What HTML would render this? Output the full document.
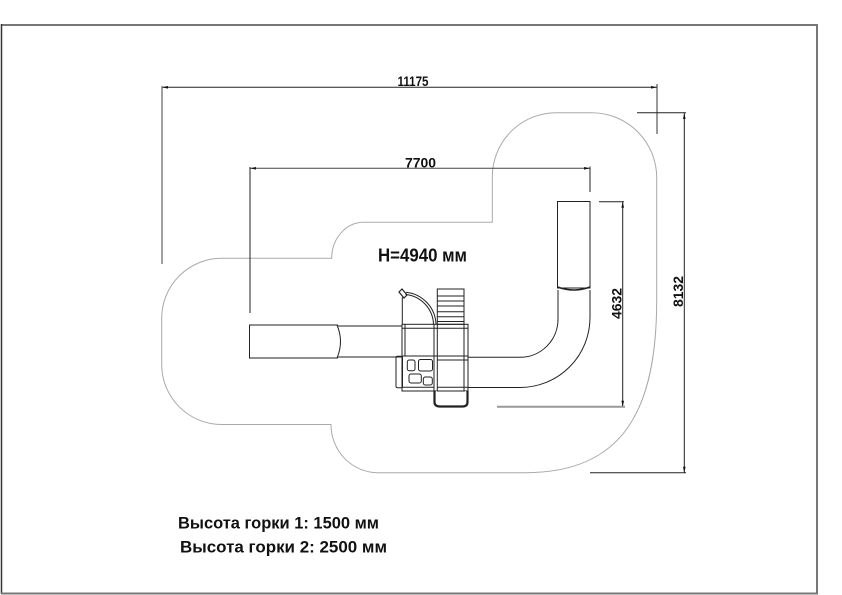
<!DOCTYPE html>
<html><head><meta charset="utf-8"><style>
html,body{margin:0;padding:0;background:#fff;}
svg{display:block;}
text{font-family:"Liberation Sans","Noto Sans CJK SC",sans-serif;font-weight:bold;fill:#111;}
</style></head><body>
<svg width="842" height="595" viewBox="0 0 842 595" xmlns="http://www.w3.org/2000/svg">
<rect width="842" height="595" fill="#fff"/>
<!-- frame -->
<line x1="1" y1="25" x2="818" y2="25" stroke="#777" stroke-width="2"/>
<line x1="1.5" y1="24" x2="1.5" y2="594" stroke="#333" stroke-width="1.5"/>
<line x1="817" y1="24" x2="817" y2="594" stroke="#777" stroke-width="2"/>
<line x1="1" y1="593.5" x2="818" y2="593.5" stroke="#777" stroke-width="2"/>

<!-- zone outline -->
<path d="M221.7,258.3 L331.7,258.3 A32,36 0 0 1 363.5,222.3 L492.3,222.3 L492.3,176.7 A64,64 0 0 1 556.3,112.7 L592,112.7 A65,65 0 0 1 656.7,177.7 L656.7,300 C656.7,412 622,472.7 525,472.7 L378,472.7 A47,48 0 0 1 331,424.5 L221.7,424.5 A60,60 0 0 1 161.7,364.5 L161.7,318.3 A60,60 0 0 1 221.7,258.3 Z" fill="none" stroke="#aaa" stroke-width="1"/>

<!-- 11175 dimension -->
<line x1="162" y1="87.3" x2="657" y2="87.3" stroke="#222" stroke-width="1"/>
<line x1="162" y1="86" x2="162" y2="264" stroke="#888" stroke-width="1.6"/>
<line x1="657" y1="84" x2="657" y2="134" stroke="#333" stroke-width="1"/>
<polygon points="162,87.3 168,86 168,88.6" fill="#111"/>
<polygon points="657,87.3 651,86 651,88.6" fill="#111"/>
<text x="397.5" y="86" font-size="14" textLength="31" lengthAdjust="spacingAndGlyphs">11175</text>

<!-- 7700 dimension -->
<line x1="250" y1="168.3" x2="590" y2="168.3" stroke="#444" stroke-width="1"/>
<line x1="250" y1="167" x2="250" y2="313" stroke="#222" stroke-width="1"/>
<line x1="590" y1="166.5" x2="590" y2="192" stroke="#222" stroke-width="1"/>
<polygon points="250,168.3 256,167 256,169.6" fill="#111"/>
<polygon points="590,168.3 584,167 584,169.6" fill="#111"/>
<text x="405" y="167.3" font-size="14" textLength="31" lengthAdjust="spacingAndGlyphs">7700</text>

<!-- 8132 dimension -->
<line x1="637" y1="112.7" x2="686" y2="112.7" stroke="#222" stroke-width="1"/>
<line x1="684.3" y1="113" x2="684.3" y2="472.7" stroke="#222" stroke-width="1"/>
<line x1="590" y1="472.7" x2="686" y2="472.7" stroke="#222" stroke-width="1"/>
<polygon points="684.3,113 683,119 685.6,119" fill="#111"/>
<polygon points="684.3,472.7 683,466.7 685.6,466.7" fill="#111"/>
<text transform="translate(683,291.5) rotate(-90)" x="0" y="0" font-size="14" text-anchor="middle" textLength="31" lengthAdjust="spacingAndGlyphs">8132</text>

<!-- 4632 dimension -->
<line x1="599" y1="201.7" x2="624" y2="201.7" stroke="#222" stroke-width="1"/>
<line x1="622.7" y1="201.7" x2="622.7" y2="406.7" stroke="#222" stroke-width="1"/>
<line x1="497" y1="406.7" x2="625" y2="406.7" stroke="#999" stroke-width="2"/>
<polygon points="622.7,201.7 621.4,207.7 624,207.7" fill="#111"/>
<polygon points="622.7,406.7 621.4,400.7 624,400.7" fill="#111"/>
<text transform="translate(621.5,303.5) rotate(-90)" x="0" y="0" font-size="14" text-anchor="middle" textLength="31" lengthAdjust="spacingAndGlyphs">4632</text>

<!-- H label -->
<text x="378" y="261.7" font-size="18" textLength="89" lengthAdjust="spacingAndGlyphs">H=4940 мм</text>

<g fill="none" stroke="#222" stroke-width="1">
<!-- left tunnel -->
<path d="M338,325 L249.5,325 L249.5,358 L338,358"/>
<path d="M337,325 Q344,341.5 337,358"/>
<line x1="338" y1="326" x2="402" y2="326"/>
<line x1="338" y1="357" x2="402" y2="357"/>

<!-- right curved slide -->
<rect x="557.5" y="201.5" width="32.5" height="86.5"/>
<path d="M557.5,287 Q574,293 590,287" stroke-width="1.6"/>
<path d="M468,357.3 L520,357.3 A38,38 0 0 0 558,319.3 L558,290"/>
<path d="M468,387.5 L520,387.5 A70,70 0 0 0 590,317.5 L590,290"/>

<!-- platform -->
<rect x="402" y="324.3" width="66" height="66.7"/>
<line x1="405" y1="324.3" x2="405" y2="356"/>
<line x1="434" y1="324.3" x2="434" y2="391"/>
<line x1="437.3" y1="324.3" x2="437.3" y2="391"/>
<line x1="464" y1="324.3" x2="464" y2="391"/>
<line x1="402" y1="328.3" x2="468" y2="328.3"/>
<line x1="402" y1="356" x2="468" y2="356"/>
<line x1="437.3" y1="360" x2="468" y2="360"/>
<line x1="437.3" y1="387.3" x2="468" y2="387.3"/>
<line x1="402" y1="387.3" x2="434" y2="387.3"/>

<!-- stairs -->
<rect x="437.3" y="289" width="26.7" height="35.3"/>
<line x1="437.3" y1="296" x2="464" y2="296"/>
<line x1="437.3" y1="301" x2="464" y2="301"/>
<line x1="437.3" y1="306" x2="464" y2="306"/>
<line x1="437.3" y1="311.7" x2="464" y2="311.7"/>
<line x1="437.3" y1="316.7" x2="464" y2="316.7"/>
<line x1="437.3" y1="321.5" x2="464" y2="321.5"/>

<!-- door / arc -->
<line x1="402.3" y1="297" x2="402.3" y2="324.3"/>
<path d="M405.5,294.5 A31,31 0 0 1 433.5,324.3"/>
<path d="M406,292.2 A33.5,33.5 0 0 1 436,324.3"/>
<path d="M399,292 L402,289 L407,295 L404,298 Z" stroke-width="1.2"/>

<!-- left panel -->
<rect x="396" y="356.3" width="6.5" height="31.5" rx="1.5"/>

<!-- windows -->
<rect x="407.3" y="360" width="7.7" height="10.7" rx="2"/>
<rect x="418.5" y="359.5" width="14" height="11.5" rx="2"/>
<rect x="409" y="374" width="12.3" height="9" rx="2"/>
<rect x="423.3" y="377" width="9" height="8" rx="2"/>

<!-- bottom handle -->
<path d="M434.5,391 L434.5,402 Q434.5,406.5 440,406.5 L462.5,406.5 Q467.5,406.5 467.5,402 L467.5,391" stroke-width="2.2"/>
<path d="M436.5,391 L436.5,401.5 Q436.5,404.3 440,404.3 L462.5,404.3 Q465.5,404.3 465.5,401.5 L465.5,391" stroke="#fff" stroke-width="0.8"/>
</g>

<!-- bottom notes -->
<text x="178" y="528.3" font-size="16.4" textLength="201" lengthAdjust="spacingAndGlyphs">Высота горки 1: 1500 мм</text>
<text x="180" y="552.3" font-size="16.4" textLength="207" lengthAdjust="spacingAndGlyphs">Высота горки 2: 2500 мм</text>
</svg>
</body></html>
